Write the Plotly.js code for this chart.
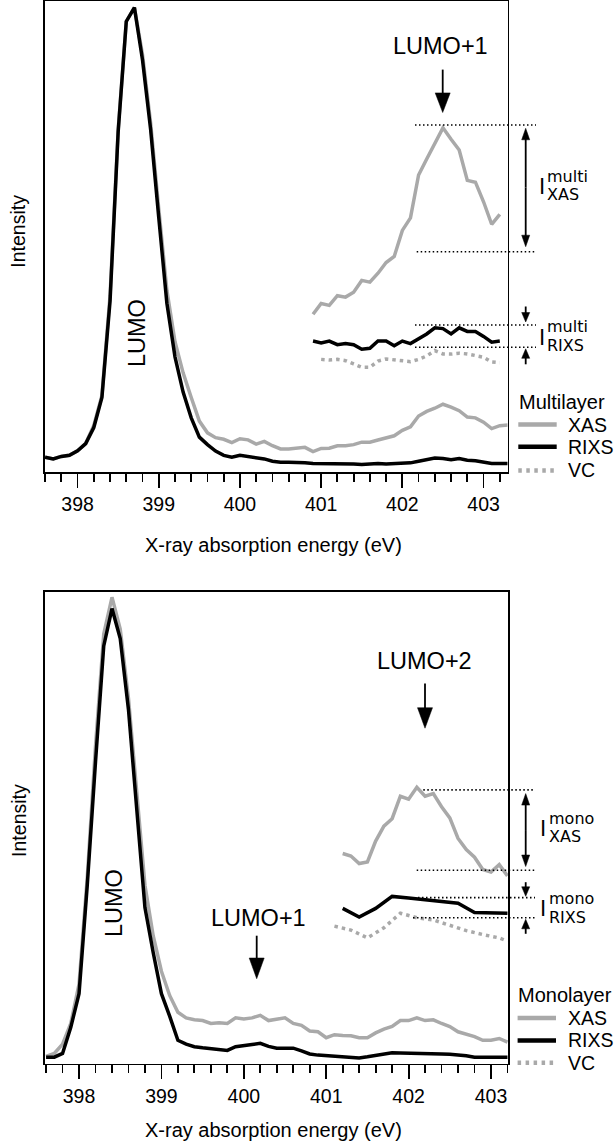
<!DOCTYPE html>
<html>
<head>
<meta charset="utf-8">
<script src="https://cdn.plot.ly/plotly-3.0.1.min.js"></script>
<style>html,body{margin:0;padding:0;background:#fff;}#chart{width:614px;height:1147px;}</style>
</head>
<body>
<div id="chart"></div>
<script>
// ---------------- DATA ----------------
// Multilayer (top panel)
const multiEnergy = [397.6,397.7,397.8,397.9,398.0,398.1,398.2,398.3,398.4,398.5,398.6,398.7,398.8,398.9,399.0,399.1,399.2,399.3,399.4,399.5,399.6,399.7,399.8,399.9,400.0,400.1,400.2,400.3,400.4,400.5,400.6,400.7,400.8,400.9,401.0,401.1,401.2,401.3,401.4,401.5,401.6,401.7,401.8,401.9,402.0,402.1,402.2,402.3,402.4,402.5,402.6,402.7,402.8,402.9,403.0,403.1,403.2,403.3];
const multiXAS = [14.3,12.7,15,16,20.3,27,44,72,165,320,421,434,390,326,246,170,122,93,70,48,37,32.5,31,28,31.5,30.5,26.5,29,25,22,22,22.5,23.5,19.5,22.5,22.7,25,25,26,28.3,28.3,30.3,32.7,34.3,39.3,42.7,52.7,57,60,63.7,61,57.7,51.7,51,47,41,43.7,44.3];
const multiRIXS = [14.3,12.7,15,16,20.3,27,42,70,160,318,421,434,385,320,238,158,108,75,51,33,26,20,16,14.3,16,15,14.3,12.7,10.5,9.5,9.5,9.5,9,8.5,8.5,8,8,8.5,8,7.5,8,8.5,8,8.5,8.5,9,10.5,12,13.5,13,12,13,11.5,11,9.5,8.5,8.5,8.5];
// Multilayer magnified insets
const multiZoomEnergy = [400.9,401.0,401.1,401.2,401.3,401.4,401.5,401.6,401.7,401.8,401.9,402.0,402.1,402.2,402.3,402.4,402.5,402.6,402.7,402.8,402.9,403.0,403.1,403.2];
const multiZoomXAS = [147.7,157.7,156,165,163.7,168.3,179.3,177.7,186,196,201.7,226,237.7,277.7,292.7,307,321.7,311,301,272.7,271,252.7,231.7,241];
const multiZoomRIXS = [122.7,121,122.7,119.3,120.3,119.3,115,116,122.7,122.7,118.3,122.7,120.3,125,129.3,135,134.3,129.3,135,131.7,131.7,127,121.7,122.7];
const multiVCEnergy = [401.0,401.1,401.2,401.3,401.4,401.5,401.6,401.7,401.8,401.9,402.0,402.1,402.2,402.3,402.4,402.5,402.6,402.7,402.8,402.9,403.0,403.1,403.2];
const multiVC = [105.6,105.0,105.6,104.4,101.3,98.2,98.2,104,106,105,104.4,103.5,105.6,108.8,113.8,110.7,110.5,111.3,110.7,108.8,107.6,103.2,102.5];

// Monolayer (bottom panel)
const monoEnergy = [397.6,397.7,397.8,397.9,398.0,398.1,398.2,398.3,398.4,398.5,398.6,398.7,398.8,398.9,399.0,399.1,399.2,399.3,399.4,399.5,399.6,399.7,399.8,399.9,400.0,400.1,400.2,400.3,400.4,400.5,400.6,400.7,400.8,400.9,401.0,401.1,401.2,401.3,401.4,401.5,401.6,401.7,401.8,401.9,402.0,402.1,402.2,402.3,402.4,402.5,402.6,402.7,402.8,402.9,403.0,403.1,403.2];
const monoXAS = [5.3,8,16.3,34.7,69.7,165,282,382,414.7,386.3,324.7,241.3,158,113,81.3,59.7,44.7,39.7,38,37.3,34.7,35.3,34.7,39.7,38.7,39.7,42,37.3,38.7,39.7,34.7,33,28,27.3,22,24.7,24,23.7,22,22,26.3,29.7,32,37.3,37.3,39.7,37.3,38,34.7,32,27.3,25.3,23,19.7,19.7,21.3,18];
const monoRIXS = [4.7,4.7,8,31.3,61.3,158,268,371.3,404.7,378,314.7,228,138,98,61.3,41.3,19.7,16.3,14,13,12,11.3,10.7,14,15.3,16,17,14.3,12.7,12.7,12.7,10.3,7.5,6.5,6,6,5.5,5,4,5,6,7.5,8.5,8.3,8,8,7.8,7.7,7.5,7.3,7,6,4.7,4.7,4.7,4.7,4.7];
// Monolayer magnified insets
const monoZoomXASEnergy = [401.2,401.3,401.4,401.5,401.6,401.7,401.8,401.9,402.0,402.1,402.2,402.3,402.4,402.5,402.6,402.7,402.8,402.9,403.0,403.1,403.2];
const monoZoomXAS = [186.3,184,177.3,178.7,197.3,210.7,217.3,237.3,234.7,245.3,237.3,239.7,228,218,199.7,189.7,183,172,169.7,176.3,166.3];
const monoZoomRIXSEnergy = [401.2,401.4,401.6,401.8,402.0,402.2,402.4,402.6,402.8,403.0,403.2];
const monoZoomRIXS = [137.3,129.7,137.3,148,146.5,145,143.5,142,133.7,133.3,133];
const monoVCEnergy = [401.1,401.3,401.5,401.7,401.9,402.1,402.3,402.5,402.7,402.9,403.1,403.2];
const monoVC = [121.5,118,111,120,133,129,127,122,117.5,114,111,108];

const tickValues = [398,399,400,401,402,403];
const tickLabels = ['398','399','400','401','402','403'];

// ---------------- STYLE ----------------
const W = 614, H = 1147;
const GREY = '#a9a9a9';
const FONT = 'Liberation Sans, Arial, sans-serif';
const LW = 3.5;
const VCDASH = '3.5px,4px';
const px = x => x / W;
const py = y => 1 - y / H;

function tr(x, y, xa, ya, color, dash) {
  return {x: x, y: y, xaxis: xa, yaxis: ya, type: 'scatter', mode: 'lines',
    line: {color: color, width: LW, dash: dash || 'solid'}, hoverinfo: 'skip', showlegend: false};
}

const data = [
  tr(multiEnergy, multiXAS, 'x', 'y', GREY),
  tr(multiEnergy, multiRIXS, 'x', 'y', '#000'),
  tr(multiZoomEnergy, multiZoomXAS, 'x', 'y', GREY),
  tr(multiZoomEnergy, multiZoomRIXS, 'x', 'y', '#000'),
  tr(multiVCEnergy, multiVC, 'x', 'y', GREY, VCDASH),
  tr(monoEnergy, monoXAS, 'x2', 'y2', GREY),
  tr(monoEnergy, monoRIXS, 'x2', 'y2', '#000'),
  tr(monoZoomXASEnergy, monoZoomXAS, 'x2', 'y2', GREY),
  tr(monoZoomRIXSEnergy, monoZoomRIXS, 'x2', 'y2', '#000'),
  tr(monoVCEnergy, monoVC, 'x2', 'y2', GREY, VCDASH)
];

function xaxisDef(domain, range, anchor) {
  return {domain: domain, range: range, anchor: anchor,
    tickmode: 'array', tickvals: tickValues, ticktext: tickLabels,
    ticks: 'outside', ticklen: 14, tickwidth: 1.8, tickcolor: '#000',
    minor: {ticks: 'outside', dtick: 0.2, tick0: 398, ticklen: 8, tickwidth: 1.8, tickcolor: '#000', showgrid: false},
    showline: true, linecolor: '#000', linewidth: 1.8, mirror: true,
    showgrid: false, zeroline: false,
    tickfont: {family: FONT, size: 19.5, color: '#000'}, fixedrange: true};
}
function yaxisDef(domain, range, anchor) {
  return {domain: domain, range: range, anchor: anchor,
    showticklabels: false, ticks: '', showgrid: false, zeroline: false,
    showline: true, linecolor: '#000', linewidth: 1.8, mirror: true, fixedrange: true};
}

const shapes = [];
const annotations = [];

function hline(x0, x1, y) {
  shapes.push({type: 'line', xref: 'paper', yref: 'paper', x0: px(x0), x1: px(x1), y0: py(y), y1: py(y),
    line: {color: '#000', width: 1.6, dash: '1.5px,2.5px'}});
}
function arrow(x, yFrom, yTip, headLen, headW, lw) {
  const dir = yTip > yFrom ? 1 : -1;
  const yBase = yTip - dir * headLen;
  shapes.push({type: 'line', xref: 'paper', yref: 'paper', x0: px(x), x1: px(x), y0: py(yFrom), y1: py(yBase + dir * 1),
    line: {color: '#000', width: lw}});
  shapes.push({type: 'path', xref: 'paper', yref: 'paper',
    path: 'M' + px(x - headW / 2) + ',' + py(yBase) + ' L' + px(x + headW / 2) + ',' + py(yBase) + ' L' + px(x) + ',' + py(yTip) + ' Z',
    fillcolor: '#000', line: {color: '#000', width: 0.5}});
}
function doubleArrow(x, yTop, yBot, headLen, headW, lw) {
  const mid = (yTop + yBot) / 2;
  arrow(x, mid, yTop, headLen, headW, lw);
  arrow(x, mid, yBot, headLen, headW, lw);
}
function text(t, x, y, size, opts) {
  annotations.push(Object.assign({text: t, xref: 'paper', yref: 'paper', x: px(x), y: py(y),
    xanchor: 'center', yanchor: 'middle', showarrow: false,
    font: {family: FONT, size: size, color: '#000'}}, opts || {}));
}
function iLabel(x, yc, sup, sub) {
  const DJ = 'DejaVu Sans, sans-serif';
  text('I', x, yc, 21, {font: {family: DJ, size: 21, color: '#000'}});
  text(sup, x + 3.5, yc - 10.5, 16, {xanchor: 'left', font: {family: DJ, size: 16, color: '#000'}});
  text(sub, x + 3.5, yc + 8, 16, {xanchor: 'left', font: {family: DJ, size: 16, color: '#000'}});
}
function legendBlock(title, x, yTitle, yRows, labels) {
  text(title, x, yTitle, 20, {xanchor: 'left'});
  const styles = [{c: GREY, d: 'solid'}, {c: '#000', d: 'solid'}, {c: GREY, d: '3.5px,4.5px'}];
  for (let i = 0; i < 3; i++) {
    shapes.push({type: 'line', xref: 'paper', yref: 'paper', x0: px(x + 1.6), x1: px(x + 40), y0: py(yRows[i]), y1: py(yRows[i]),
      line: {color: styles[i].c, width: 4.5, dash: styles[i].d}});
    text(labels[i], x + 49.5, yRows[i], 19.5, {xanchor: 'left'});
  }
}

// ---- top panel annotations ----
text('X-ray absorption energy (eV)', 273, 544.6, 20);
text('Intensity', 18.3, 231.4, 19.5, {textangle: -90});
text('LUMO', 137, 333, 23.5, {textangle: -90});
text('LUMO+1', 440, 46.4, 23.5);
arrow(442.7, 69.6, 112.5, 19.6, 15, 1.8);
hline(415, 536, 125);
hline(416.7, 536, 251.7);
hline(415, 536, 325);
hline(415, 536, 347.2);
doubleArrow(525.7, 128.3, 246.7, 11.5, 8, 1.8);
arrow(525.7, 306.5, 322, 9.5, 8, 1.8);
arrow(525.7, 364.3, 348.8, 9.5, 8, 1.8);
iLabel(541.7, 186.7, 'multi', 'XAS');
iLabel(541.7, 337.5, 'multi', 'RIXS');
legendBlock('Multilayer', 516.7, 401.8, [424.5, 446.8, 470.5], ['XAS', 'RIXS', 'VC']);

// ---- bottom panel annotations ----
text('X-ray absorption energy (eV)', 273.3, 1130, 20);
text('Intensity', 18.3, 820.6, 19.5, {textangle: -90});
text('LUMO', 114, 903, 23.5, {textangle: -90});
text('LUMO+2', 424.7, 661, 23.5);
arrow(425, 683.4, 728.2, 20.5, 15, 1.8);
text('LUMO+1', 258.3, 918.1, 23.5);
arrow(256.7, 935.7, 978.7, 20.7, 15, 1.8);
hline(423.3, 535, 789.9);
hline(416.7, 535, 870.3);
hline(418, 535, 897.6);
hline(413, 535, 917.8);
doubleArrow(525.7, 793.6, 866.5, 11.5, 8, 1.8);
arrow(525.7, 882.2, 896.3, 9.5, 8, 1.8);
arrow(525.7, 933.8, 919.3, 9.5, 8, 1.8);
iLabel(543.3, 828.5, 'mono', 'XAS');
iLabel(543.3, 909, 'mono', 'RIXS');
legendBlock('Monolayer', 516, 994.8, [1018, 1040.4, 1062.8], ['XAS', 'RIXS', 'VC']);

const layout = {
  width: W, height: H,
  margin: {l: 0, r: 0, t: 0, b: 0, pad: 0},
  paper_bgcolor: '#fff', plot_bgcolor: 'rgba(0,0,0,0)',
  showlegend: false,
  xaxis: xaxisDef([45 / W, 507.5 / W], [397.599, 403.295], 'y'),
  yaxis: yaxisDef([1 - 472 / H, 1 - 1 / H], [0.47, 440.1], 'x'),
  xaxis2: xaxisDef([45 / W, 508.3 / W], [397.587, 403.21], 'y2'),
  yaxis2: yaxisDef([1 - 1063.6 / H, 1 - 591.8 / H], [-1.07, 419.6], 'x2'),
  shapes: shapes,
  annotations: annotations
};

Plotly.newPlot('chart', data, layout, {staticPlot: true, displayModeBar: false});
</script>
</body>
</html>
